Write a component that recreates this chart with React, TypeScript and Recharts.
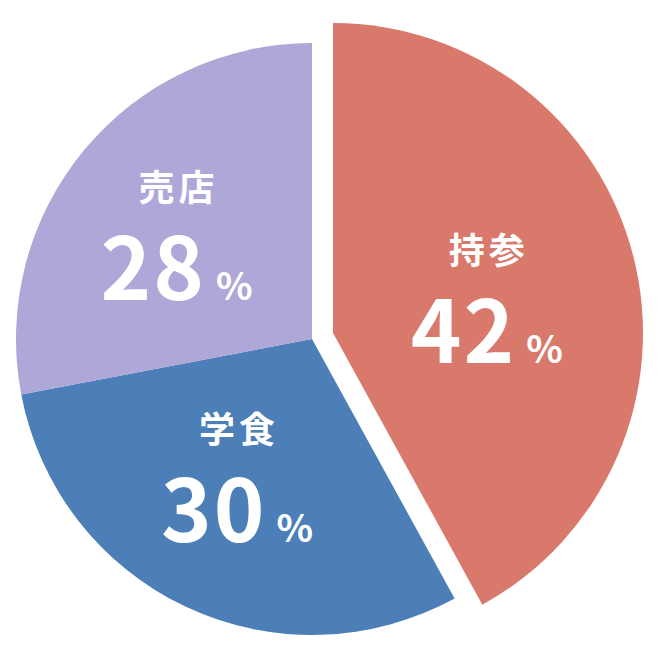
import { PieChart, Pie, Cell } from "recharts";

const categories = ["持参", "学食", "売店"];
const shares = [42, 30, 28];
const colors = ["#D9796B", "#4C7FB8", "#AFA7D7"];

// label placement tweaks per slice (radius from centre, angle nudge in degrees)
const labelRadius = [158, 155, 172];
const labelNudge = [-1, -3.7, 1.6];

const data = categories.map((name, i) => ({ name, value: shares[i] }));

const RAD = Math.PI / 180;
const FONT = '"Noto Sans CJK JP", "Noto Sans", sans-serif';

function makeLabel(visible: (i: number) => boolean) {
  return (props: any) => {
    const { cx, cy, midAngle, index } = props;
    if (!visible(index)) return null;
    const a = (midAngle + labelNudge[index]) * RAD;
    const x = cx + labelRadius[index] * Math.cos(a);
    const y = cy - labelRadius[index] * Math.sin(a);
    // one text element: name on top, share + % underneath
    return (
      <text
        key={`lbl-${index}`}
        textAnchor="middle"
        fill="#fff"
        fontFamily={FONT}
        fontWeight={700}
      >
        <tspan x={x + 2} y={y - 32} fontSize={36} letterSpacing={4}>
          {categories[index]}
        </tspan>
        <tspan x={x} y={y + 67} fontSize={86} letterSpacing={2}>
          {shares[index]}
        </tspan>
        <tspan dx={10} fontSize={38} letterSpacing={0}>%</tspan>
      </text>
    );
  };
}

export default function App() {
  return (
    <div style={{ position: "absolute", left: 0, top: 0, width: 660, height: 660, background: "#fff" }}>
      <PieChart width={660} height={660} margin={{ top: 0, right: 0, bottom: 0, left: 0 }}>
        <Pie
          data={data}
          dataKey="value"
          cx={312}
          cy={339}
          outerRadius={296}
          startAngle={90}
          endAngle={-270}
          stroke="none"
          labelLine={false}
          label={makeLabel((i) => i !== 0)}
          isAnimationActive={false}
        >
          {data.map((d, i) => (
            <Cell key={d.name} fill={i === 0 ? "transparent" : colors[i]} />
          ))}
        </Pie>
        <Pie
          data={data}
          dataKey="value"
          cx={333}
          cy={333}
          outerRadius={310}
          startAngle={90}
          endAngle={-270}
          stroke="none"
          labelLine={false}
          label={makeLabel((i) => i === 0)}
          isAnimationActive={false}
        >
          {data.map((d, i) => (
            <Cell key={d.name} fill={i === 0 ? colors[i] : "transparent"} />
          ))}
        </Pie>
      </PieChart>
    </div>
  );
}
